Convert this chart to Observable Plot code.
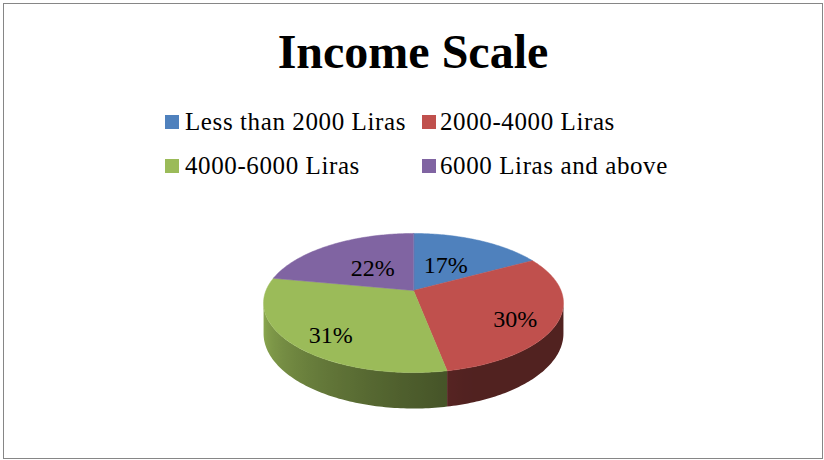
<!DOCTYPE html>
<html>
<head>
<meta charset="utf-8">
<script src="https://cdn.jsdelivr.net/npm/d3@7"></script>
<script src="https://cdn.jsdelivr.net/npm/@observablehq/plot@0.6"></script>
<style>
  html, body { margin: 0; padding: 0; background: #ffffff; }
  #wrap { position: relative; width: 824px; height: 460px; overflow: hidden; font-family: "Liberation Serif", "Times New Roman", serif; color: #000; }
  #frame { position: absolute; left: 3px; top: 3px; width: 820px; height: 456px; box-sizing: border-box; border: 1px solid #868686; }
  #chart { position: absolute; left: 0; top: 0; }
  #title { position: absolute; left: 0; width: 826px; top: 28px; text-align: center; font-weight: bold; font-size: 48px; line-height: 48px; white-space: nowrap; }
  .leg-item { position: absolute; font-size: 25px; line-height: 25px; white-space: nowrap; letter-spacing: 0.6px; }
  .leg-swatch { position: absolute; width: 14px; height: 14px; }
</style>
</head>
<body>
<div id="wrap">
  <div id="frame"></div>
  <div id="chart"></div>
  <div id="title">Income Scale</div>
</div>
<script>
// ---- data ----
const categories = ["Less than 2000 Liras", "2000-4000 Liras", "4000-6000 Liras", "6000 Liras and above"];
const shares = [17, 30, 31, 22];
const labels = ["17%", "30%", "31%", "22%"];
const palette = ["#4F81BD", "#C0504D", "#9BBB59", "#8064A2"];

// ---- legend (HTML, two columns x two rows) ----
const wrap = document.getElementById("wrap");
const legCols = [{sw: 165, tx: 185}, {sw: 422, tx: 440}];
const legRows = [129.5, 173.5]; // baselines
categories.forEach((c, i) => {
  const col = legCols[i % 2], base = legRows[Math.floor(i / 2)];
  const sw = document.createElement("div");
  sw.className = "leg-swatch";
  sw.style.left = col.sw + "px";
  sw.style.top = (base - 14.5) + "px";
  sw.style.background = palette[i];
  wrap.appendChild(sw);
  const t = document.createElement("div");
  t.className = "leg-item";
  t.textContent = c;
  t.style.left = col.tx + "px";
  t.style.top = (base - 20.94) + "px";
  wrap.appendChild(t);
});

// ---- 3D pie geometry (perspective-tilted disc) ----
const K = 0.18;      // perspective strength
const H = 0.438;     // thickness (in y units)
function proj(theta, r, h) {
  const u = r * Math.sin(theta), v = -r * Math.cos(theta), w = 1 - K * v;
  return [u / w, (v + h) / w];
}
const arcs = d3.pie().sort(null).value(d => d)(shares);
const step = Math.PI / 180;
function arcPts(a0, a1) {
  const n = Math.max(2, Math.ceil((a1 - a0) / step));
  return d3.range(n + 1).map(j => a0 + (a1 - a0) * j / n);
}

// top faces
const topRows = [];
arcs.forEach((a, i) => {
  const pts = [[0, 0], ...arcPts(a.startAngle, a.endAngle).map(t => proj(t, 1, 0))];
  pts.forEach(([x, y]) => topRows.push({id: "top" + i, x, y, fill: palette[i]}));
});

// side walls (visible part) with lighting gradients
const vis0 = Math.acos(-K), vis1 = 2 * Math.PI - vis0;
function shade(theta) {
  const deg = theta * 180 / Math.PI;
  const s = Math.max(0, (deg - 160) / 100);
  return 0.42 + 0.5 * Math.pow(s, 1.2);
}
const sideRows = [];
const gradients = [];
arcs.forEach((a, i) => {
  const t0 = Math.max(a.startAngle, vis0), t1 = Math.min(a.endAngle, vis1);
  if (t0 >= t1) return;
  const ts = arcPts(t0, t1);
  const id = "side" + i;
  const gid = "pieSideGrad" + i;
  const outline = [...ts.map(t => proj(t, 1, 0)), ...ts.slice().reverse().map(t => proj(t, 1, H))];
  outline.forEach(([x, y]) => sideRows.push({id, x, y, fill: `url(#${gid})`}));
  // gradient stops across the horizontal extent of this wall
  const xs = ts.map(t => proj(t, 1, 0)[0]);
  const xmin = d3.min(xs), xmax = d3.max(xs);
  const c = d3.rgb(palette[i]);
  const stops = ts.map((t, j) => {
    const f = shade(t);
    return {offset: (xs[j] - xmin) / (xmax - xmin), color: d3.rgb(c.r * f, c.g * f, c.b * f).formatHex()};
  }).sort((p, q) => p.offset - q.offset);
  gradients.push({gid, stops});
});

// labels
const labelRows = arcs.map((a, i) => {
  const m = (a.startAngle + a.endAngle) / 2;
  const r = shares[i] < 25 ? 0.46 : 0.72;
  const front = -Math.cos(m) > 0 ? 0.1 : 0;
  const [x, y] = proj(m, r, front);
  return {x, y, text: labels[i]};
});

function defsMark() {
  const defs = d3.create("svg:defs");
  gradients.forEach(g => {
    const lg = defs.append("linearGradient").attr("id", g.gid)
      .attr("x1", 0).attr("x2", 1).attr("y1", 0).attr("y2", 0);
    g.stops.forEach(s => lg.append("stop").attr("offset", s.offset).attr("stop-color", s.color));
  });
  return defs.node();
}

const chart = Plot.plot({
  width: 824,
  height: 460,
  margin: 0,
  style: {background: "transparent", overflow: "visible"},
  x: {domain: [-1, 1], range: [265.5, 560.5], axis: null},
  y: {domain: [-1, 1], range: [222.7, 357.3], axis: null},
  color: {type: "identity"},
  marks: [
    defsMark,
    Plot.line(sideRows, {x: "x", y: "y", z: "id", fill: "fill", curve: "linear-closed"}),
    Plot.line(topRows, {x: "x", y: "y", z: "id", fill: "fill", stroke: "fill", strokeWidth: 0.5, curve: "linear-closed"}),
    Plot.text(labelRows, {x: "x", y: "y", text: "text", fontSize: 24, fontFamily: "Liberation Serif", fill: "#000"})
  ]
});
document.getElementById("chart").appendChild(chart);
</script>
</body>
</html>
